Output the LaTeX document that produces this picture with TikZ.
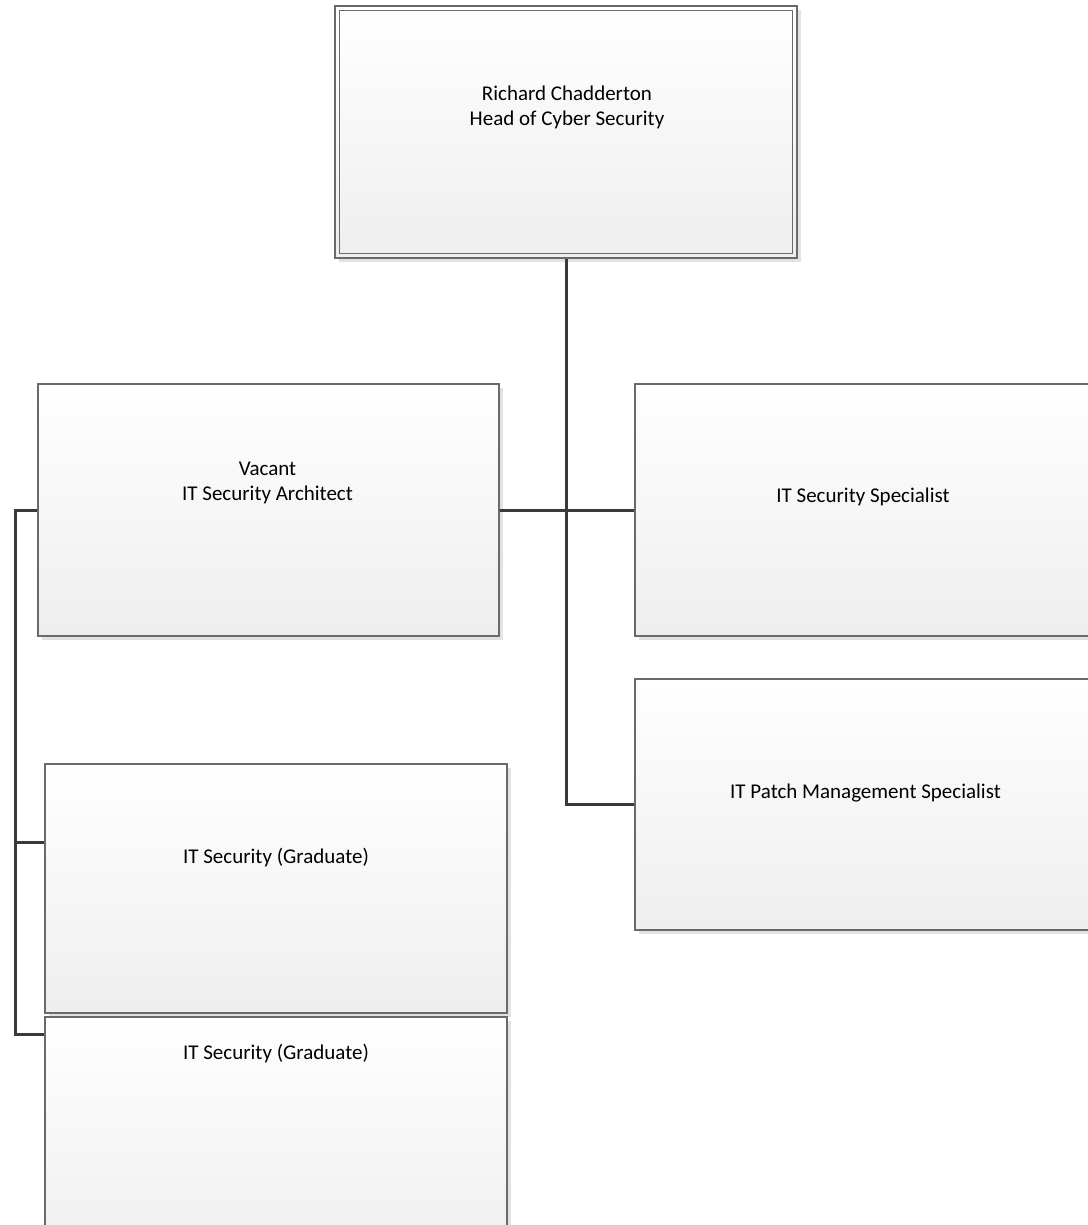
\documentclass[tikz,border=0pt]{standalone}
\usepackage{fontspec}
\setmainfont{Carlito}
\usetikzlibrary{shadows}
\definecolor{boxline}{HTML}{6A6A6A}
\definecolor{conn}{HTML}{3A3A3A}
\definecolor{boxbot}{HTML}{EEEEEE}
\definecolor{shadowc}{HTML}{E2E2E2}
\tikzset{
  orgbox/.style={rectangle, draw=boxline, line width=1.3pt, top color=white, bottom color=boxbot,
    inner sep=0pt, minimum width=#1, drop shadow={shadow xshift=4pt, shadow yshift=-4pt, fill=shadowc, opacity=1}},
  orgbox/.default=461pt,
  orgtext/.style={font=\fontsize{21}{25}\selectfont, align=center, inner sep=0pt, text=black},
  link/.style={draw=conn, line width=3pt}
}
\begin{document}
\begin{tikzpicture}[x=1pt, y=-1pt]
\useasboundingbox[fill=white] (0,0) rectangle (1087,1225);
% boxes
\node[orgbox=462pt, minimum height=252pt] (top) at (566,132) {};
\draw[boxline, line width=1.3pt] ([xshift=5pt,yshift=-5pt]top.north west) rectangle ([xshift=-5pt,yshift=5pt]top.south east);
\node[orgbox, minimum height=252pt] (arch) at (268.5,510) {};
\node[orgbox, minimum height=252pt] (spec) at (865.5,510) {};
\node[orgbox, minimum height=251pt] (patch) at (865.5,804.5) {};
\node[orgbox=462pt, minimum height=249pt] (grad1) at (276,888.5) {};
\node[orgbox=462pt, minimum height=250pt] (grad2) at (276,1142) {};
% texts
\node[orgtext] (toptxt) at (567,107.5) {Richard Chadderton\\Head of Cyber Security};
\node[orgtext] (archtxt) at (267.5,482.5) {Vacant\\IT Security Architect};
\node[orgtext] (spectxt) at (863,497) {IT Security Specialist};
\node[orgtext] (patchtxt) at (865.5,793) {IT Patch Management Specialist};
\node[orgtext] (grad1txt) at (276,858) {IT Security (Graduate)};
\node[orgtext] (grad2txt) at (276,1053) {IT Security (Graduate)};
% connectors
\coordinate (leftbus) at (15,510);
\draw[link] (top.south) -- (top.south |- patch.west) -- (patch.west);
\draw[link] (arch.east) -- (spec.west);
\draw[link] (arch.west) -- (leftbus) |- ([yshift=108pt]grad2.west);
\draw[link] (leftbus |- grad1.west) ++(0,-46.5) -- ([yshift=46.5pt]grad1.west);
\end{tikzpicture}
\end{document}
